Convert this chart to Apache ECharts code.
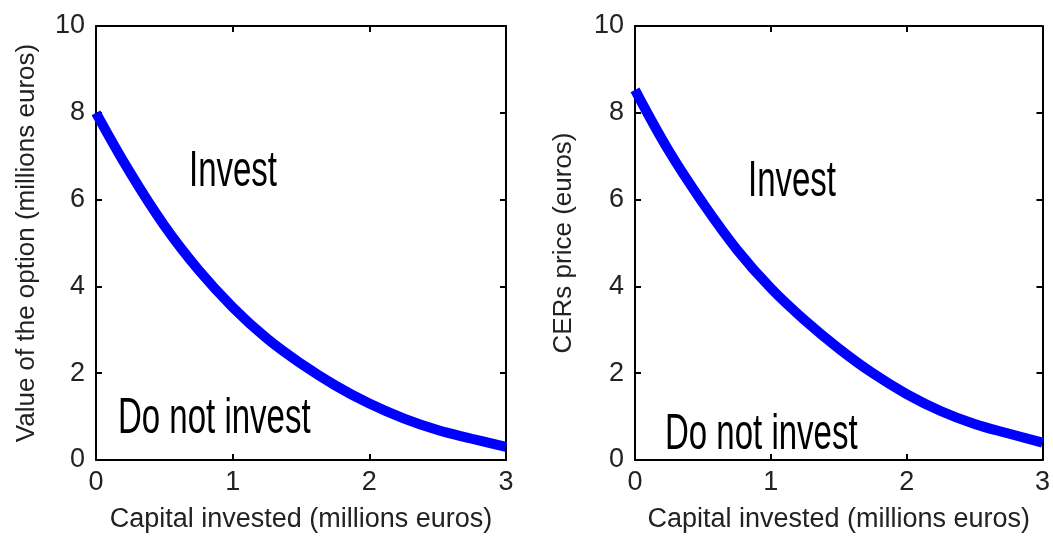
<!DOCTYPE html>
<html>
<head>
<meta charset="utf-8">
<script src="https://cdn.jsdelivr.net/npm/echarts@6/dist/echarts.min.js"></script>
<style>
html,body{margin:0;padding:0;background:#fff;}
#c{width:1053px;height:538px;}
</style>
</head>
<body>
<div id="c"></div>
<script>
// Data
const capital = [0, 0.25, 0.5, 0.75, 1.0, 1.25, 1.5, 1.75, 2.0, 2.25, 2.5, 2.75, 3.0];
const optionValue = [8.0, 6.62, 5.4, 4.38, 3.52, 2.8, 2.22, 1.72, 1.3, 0.96, 0.69, 0.49, 0.3];
const cerPrice = [8.53, 7.12, 5.92, 4.85, 3.96, 3.22, 2.57, 2.0, 1.52, 1.13, 0.83, 0.61, 0.4];
const xTicks = [0, 1, 2, 3];
const yTicks = [0, 2, 4, 6, 8, 10];
const xTitle = 'Capital invested (millions euros)';
const yTitleLeft = 'Value of the option (millions euros)';
const yTitleRight = 'CERs price (euros)';
const regionLabels = ['Invest', 'Do not invest'];

const pairs = (xs, ys) => xs.map((x, i) => [x, ys[i]]);

const FONT = '"Liberation Sans", Arial, Helvetica, sans-serif';
const axisLine = { show: true, onZero: false, lineStyle: { color: '#000', width: 2 } };
const tick = { show: true, inside: true, length: 6, lineStyle: { color: '#000', width: 2 } };

function xAxes(gi) {
  return [
    {
      type: 'value', gridIndex: gi, min: xTicks[0], max: xTicks[xTicks.length - 1], interval: 1,
      axisLine, axisTick: tick, splitLine: { show: false },
      axisLabel: { color: '#222', fontSize: 27, fontFamily: FONT, margin: 9 },
      name: xTitle, nameLocation: 'middle', nameGap: 46,
      nameTextStyle: { color: '#222', fontSize: 27, fontFamily: FONT }
    },
    {
      type: 'value', gridIndex: gi, position: 'top', min: xTicks[0], max: xTicks[xTicks.length - 1], interval: 1,
      axisLine, axisTick: tick, splitLine: { show: false }, axisLabel: { show: false }
    }
  ];
}
function yAxes(gi, title, gap) {
  return [
    {
      type: 'value', gridIndex: gi, min: yTicks[0], max: yTicks[yTicks.length - 1], interval: 2,
      axisLine, axisTick: tick, splitLine: { show: false },
      axisLabel: { color: '#222', fontSize: 27, fontFamily: FONT, margin: 11 },
      name: title, nameLocation: 'middle', nameGap: gap,
      nameTextStyle: { color: '#222', fontSize: 26, fontFamily: FONT }
    },
    {
      type: 'value', gridIndex: gi, position: 'right', min: yTicks[0], max: yTicks[yTicks.length - 1], interval: 2,
      axisLine, axisTick: tick, splitLine: { show: false }, axisLabel: { show: false }
    }
  ];
}

function label(text, x, y) {
  return {
    type: 'text', x: x, y: y, scaleX: 0.66, scaleY: 1, z: 100,
    style: { text: text, x: 0, y: 0, fill: '#000', font: '50px ' + FONT,
             textAlign: 'left', textVerticalAlign: 'middle' }
  };
}

const chart = echarts.init(document.getElementById('c'));
chart.setOption({
  backgroundColor: '#fff',
  animation: false,
  grid: [
    { left: 96, right: 547, top: 26, bottom: 77 },
    { left: 635, right: 8, top: 26, bottom: 77 }
  ],
  xAxis: [...xAxes(0), ...xAxes(1)],
  yAxis: [...yAxes(0, yTitleLeft, 56), ...yAxes(1, yTitleRight, 58)],
  series: [
    {
      type: 'line', xAxisIndex: 0, yAxisIndex: 0, data: pairs(capital, optionValue),
      smooth: 0.4, symbol: 'none', lineStyle: { color: '#0000ff', width: 10 }
    },
    {
      type: 'line', xAxisIndex: 2, yAxisIndex: 2, data: pairs(capital, cerPrice),
      smooth: 0.4, symbol: 'none', lineStyle: { color: '#0000ff', width: 10 }
    }
  ],
  graphic: [
    label(regionLabels[0], 189, 172),
    label(regionLabels[1], 118, 419),
    label(regionLabels[0], 748, 182),
    label(regionLabels[1], 665, 435)
  ]
});
</script>
</body>
</html>
